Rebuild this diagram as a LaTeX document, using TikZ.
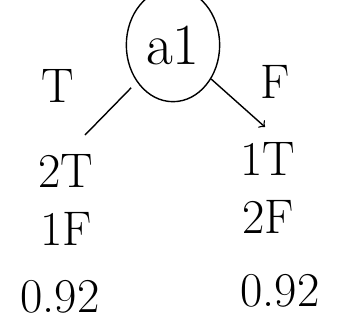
\documentclass[tikz,border=0pt]{standalone}
\usepackage{tikz}
\usetikzlibrary{shapes}
\usetikzlibrary{arrows}
\tikzset{
  treenode/.style = {align=center, inner sep=0pt, text centered},
  attr_node/.style = {treenode, ellipse, draw=black, semithick,
    minimum width=1.4cm, minimum height=1.7cm, font=\Huge},% noeud attribut
  branch_label/.style = {treenode, font=\huge},% etiquette de branche
  count_node/.style = {treenode, font=\huge},% compte T / F
  entropy_node/.style = {treenode, font=\huge}% valeur
}

\begin{document}
\begin{tikzpicture}[x=0.015cm, y=-0.015cm]
      \useasboundingbox (0,0) rectangle (337,320);
      \node [attr_node] (a1) at (173,45) {a1};
      \node [branch_label] (t_label) at (58,86) {T};
      \node [branch_label] (f_label) at (275,82) {F};
      \coordinate (t_end) at (85,135);
      \coordinate (f_end) at (265,127);
      \draw [semithick, shorten <=0.12cm] (a1) -- (t_end);
      \draw [semithick, ->] (a1) -- (f_end);
      \node [count_node] (left_count) at (66,200) {2T\\1F};
      \node [count_node] (right_count) at (268,188) {1T\\2F};
      \node [entropy_node] (left_value) at (60,297) {0.92};
      \node [entropy_node] (right_value) at (280,291) {0.92};
    \end{tikzpicture}
\end{document}
